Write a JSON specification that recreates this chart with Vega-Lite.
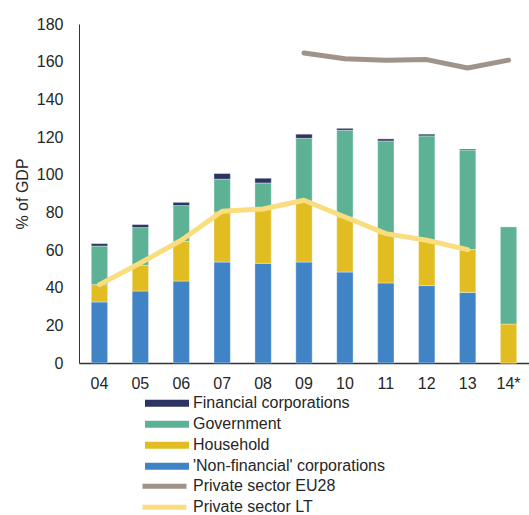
{
  "$schema": "https://vega.github.io/schema/vega-lite/v6.json",
  "width": 450,
  "height": 339,
  "autosize": {"type": "none"},
  "padding": {"left": 79, "top": 24, "right": 0, "bottom": 152},
  "background": "white",
  "config": {
    "view": {"stroke": null},
    "font": "Liberation Sans",
    "axis": {"labelFont": "Liberation Sans", "titleFont": "Liberation Sans", "labelFontSize": 16, "labelColor": "#262626", "titleFontSize": 16, "titleFontWeight": "normal", "titleColor": "#262626", "domainColor": "#333333", "grid": false, "ticks": false, "labelOverlap": false},
    "legend": {"labelFont": "Liberation Sans", "labelFontSize": 16, "labelColor": "#262626", "labelLimit": 400}
  },
  "datasets": {
    "bars": [
      {"year": "04", "series": "'Non-financial' corporations", "o": 1, "v": 32.4},
      {"year": "04", "series": "Household", "o": 2, "v": 9.2},
      {"year": "04", "series": "Government", "o": 3, "v": 20.5},
      {"year": "04", "series": "Financial corporations", "o": 4, "v": 1.3},
      {"year": "05", "series": "'Non-financial' corporations", "o": 1, "v": 38.2},
      {"year": "05", "series": "Household", "o": 2, "v": 13.7},
      {"year": "05", "series": "Government", "o": 3, "v": 20.0},
      {"year": "05", "series": "Financial corporations", "o": 4, "v": 1.6},
      {"year": "06", "series": "'Non-financial' corporations", "o": 1, "v": 43.5},
      {"year": "06", "series": "Household", "o": 2, "v": 21.1},
      {"year": "06", "series": "Government", "o": 3, "v": 19.0},
      {"year": "06", "series": "Financial corporations", "o": 4, "v": 1.7},
      {"year": "07", "series": "'Non-financial' corporations", "o": 1, "v": 53.6},
      {"year": "07", "series": "Household", "o": 2, "v": 26.6},
      {"year": "07", "series": "Government", "o": 3, "v": 17.4},
      {"year": "07", "series": "Financial corporations", "o": 4, "v": 3.0},
      {"year": "08", "series": "'Non-financial' corporations", "o": 1, "v": 52.9},
      {"year": "08", "series": "Household", "o": 2, "v": 29.1},
      {"year": "08", "series": "Government", "o": 3, "v": 13.6},
      {"year": "08", "series": "Financial corporations", "o": 4, "v": 2.5},
      {"year": "09", "series": "'Non-financial' corporations", "o": 1, "v": 53.6},
      {"year": "09", "series": "Household", "o": 2, "v": 32.0},
      {"year": "09", "series": "Government", "o": 3, "v": 33.7},
      {"year": "09", "series": "Financial corporations", "o": 4, "v": 2.2},
      {"year": "10", "series": "'Non-financial' corporations", "o": 1, "v": 48.3},
      {"year": "10", "series": "Household", "o": 2, "v": 29.2},
      {"year": "10", "series": "Government", "o": 3, "v": 46.1},
      {"year": "10", "series": "Financial corporations", "o": 4, "v": 1.0},
      {"year": "11", "series": "'Non-financial' corporations", "o": 1, "v": 42.5},
      {"year": "11", "series": "Household", "o": 2, "v": 26.2},
      {"year": "11", "series": "Government", "o": 3, "v": 49.2},
      {"year": "11", "series": "Financial corporations", "o": 4, "v": 1.1},
      {"year": "12", "series": "'Non-financial' corporations", "o": 1, "v": 41.1},
      {"year": "12", "series": "Household", "o": 2, "v": 23.7},
      {"year": "12", "series": "Government", "o": 3, "v": 55.8},
      {"year": "12", "series": "Financial corporations", "o": 4, "v": 0.9},
      {"year": "13", "series": "'Non-financial' corporations", "o": 1, "v": 37.5},
      {"year": "13", "series": "Household", "o": 2, "v": 22.7},
      {"year": "13", "series": "Government", "o": 3, "v": 52.9},
      {"year": "13", "series": "Financial corporations", "o": 4, "v": 0.5},
      {"year": "14*", "series": "'Non-financial' corporations", "o": 1, "v": 0},
      {"year": "14*", "series": "Household", "o": 2, "v": 20.7},
      {"year": "14*", "series": "Government", "o": 3, "v": 51.7},
      {"year": "14*", "series": "Financial corporations", "o": 4, "v": 0}
    ],
    "lines": [
      {"year": "04", "series": "Private sector LT", "v": 41.6},
      {"year": "05", "series": "Private sector LT", "v": 53.1},
      {"year": "06", "series": "Private sector LT", "v": 65.2},
      {"year": "07", "series": "Private sector LT", "v": 80.6},
      {"year": "08", "series": "Private sector LT", "v": 81.8},
      {"year": "09", "series": "Private sector LT", "v": 86.4},
      {"year": "10", "series": "Private sector LT", "v": 77.5},
      {"year": "11", "series": "Private sector LT", "v": 68.7},
      {"year": "12", "series": "Private sector LT", "v": 65.2},
      {"year": "13", "series": "Private sector LT", "v": 60.2},
      {"year": "09", "series": "Private sector EU28", "v": 164.6},
      {"year": "10", "series": "Private sector EU28", "v": 161.6},
      {"year": "11", "series": "Private sector EU28", "v": 160.8},
      {"year": "12", "series": "Private sector EU28", "v": 161.1},
      {"year": "13", "series": "Private sector EU28", "v": 156.6},
      {"year": "14*", "series": "Private sector EU28", "v": 160.8}
    ]
  },
  "encoding": {
    "x": {"field": "year", "type": "ordinal", "sort": ["04","05","06","07","08","09","10","11","12","13","14*"],
      "scale": {"paddingInner": 0.6, "paddingOuter": 0.3},
      "axis": {"title": null, "labelAngle": 0, "labelPadding": 12, "domainWidth": 1.5}}
  },
  "layer": [
    {
      "data": {"name": "bars"},
      "mark": {"type": "bar", "stroke": "#ffffff", "strokeWidth": 0.6, "strokeOpacity": 0.6},
      "encoding": {
        "y": {"field": "v", "type": "quantitative", "stack": "zero",
          "scale": {"domain": [0, 180], "nice": false},
          "axis": {"title": "% of GDP", "values": [0,20,40,60,80,100,120,140,160,180], "labelOverlap": false, "labelPadding": 16, "titlePadding": 6}},
        "order": {"field": "o", "type": "quantitative"},
        "fill": {"field": "series", "type": "nominal",
          "scale": {"domain": ["Financial corporations", "Government", "Household", "'Non-financial' corporations"],
                    "range": ["#2b3463", "#5db295", "#e2bd22", "#4184c6"]},
          "legend": {"title": null, "orient": "none", "legendX": 66, "legendY": 369,
            "symbolType": "M-1,-0.16L1,-0.16L1,0.16L-1,0.16Z", "symbolSize": 1936, "symbolStrokeWidth": 0,
            "clipHeight": 20.7, "rowPadding": 0, "labelOffset": 4}}
      }
    },
    {
      "data": {"name": "lines"},
      "mark": {"type": "line", "strokeWidth": 5, "strokeCap": "round", "strokeJoin": "round"},
      "encoding": {
        "y": {"field": "v", "type": "quantitative",
          "scale": {"domain": [0, 180], "nice": false},
          "axis": {"title": "% of GDP", "values": [0,20,40,60,80,100,120,140,160,180], "labelOverlap": false, "labelPadding": 16, "titlePadding": 6}},
        "stroke": {"field": "series", "type": "nominal",
          "scale": {"domain": ["Private sector EU28", "Private sector LT"], "range": ["#a09389", "#fadd7e"]},
          "legend": {"title": null, "orient": "none", "legendX": 61, "legendY": 452,
            "symbolType": "stroke", "symbolSize": 1936, "symbolStrokeWidth": 5,
            "clipHeight": 20.7, "rowPadding": 0, "labelOffset": 4}}
      }
    }
  ]
}
